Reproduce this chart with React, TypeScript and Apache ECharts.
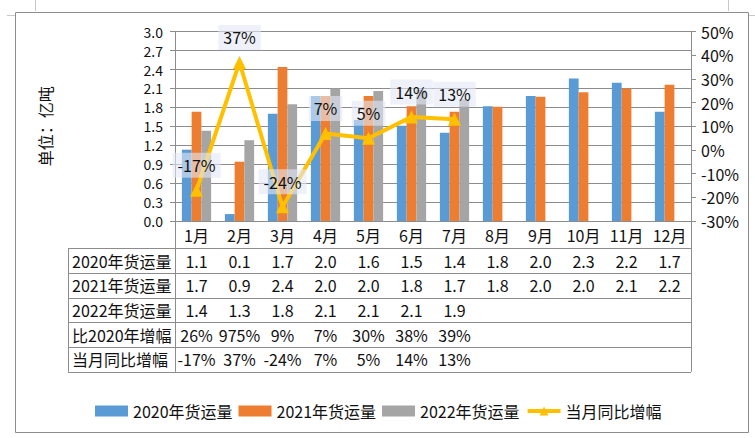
import React, { useEffect, useRef } from "react";
import * as echarts from "echarts";

const months = ["1月", "2月", "3月", "4月", "5月", "6月", "7月", "8月", "9月", "10月", "11月", "12月"];
const freight2020 = [1.13, 0.11, 1.7, 1.98, 1.6, 1.51, 1.4, 1.82, 1.98, 2.26, 2.19, 1.73];
const freight2021 = [1.73, 0.94, 2.44, 1.98, 1.98, 1.82, 1.73, 1.81, 1.97, 2.04, 2.1, 2.16];
const freight2022 = [1.43, 1.28, 1.85, 2.1, 2.06, 2.08, 1.93, null, null, null, null, null];
const yoyGrowth = [-17, 37, -24, 7, 5, 14, 13, null, null, null, null, null];

const seriesNames = ["2020年货运量", "2021年货运量", "2022年货运量", "当月同比增幅"];
const rowNames = ["2020年货运量", "2021年货运量", "2022年货运量", "比2020年增幅", "当月同比增幅"];
const row2020 = ["1.1", "0.1", "1.7", "2.0", "1.6", "1.5", "1.4", "1.8", "2.0", "2.3", "2.2", "1.7"];
const row2021 = ["1.7", "0.9", "2.4", "2.0", "2.0", "1.8", "1.7", "1.8", "2.0", "2.0", "2.1", "2.2"];
const row2022 = ["1.4", "1.3", "1.8", "2.1", "2.1", "2.1", "1.9"];
const rowVs2020 = ["26%", "975%", "9%", "7%", "30%", "38%", "39%"];
const rowYoy = ["-17%", "37%", "-24%", "7%", "5%", "14%", "13%"];
const tableRows = [row2020, row2021, row2022, rowVs2020, rowYoy];

const yAxisName = "单位：亿吨";

const FONT = '"Noto Sans CJK SC", "Noto Sans", sans-serif';
const TXT = "#111";
const GRID_LINE = "#8c8c8c";
const COLORS = ["#5B9BD5", "#ED7D31", "#A5A5A5", "#FFC000"];

export default function App() {
  const ref = useRef<HTMLDivElement>(null);
  useEffect(() => {
    if (!ref.current) return;
    const chart = echarts.init(ref.current, null, { renderer: "svg" });
    const gridLeft = 175;
    const gridRight = 691;
    const gridTop = 31.7;
    const gridBottom = 221;
    chart.setOption({
      animation: false,
      color: COLORS,
      textStyle: { fontFamily: FONT },
      grid: { left: gridLeft, right: 755 - gridRight, top: gridTop, bottom: 438 - gridBottom },
      legend: {
        left: 90,
        top: 398,
        itemWidth: 33,
        itemHeight: 11,
        itemGap: 6,
        textStyle: { fontFamily: FONT, fontSize: 16, color: TXT },
        data: [
          { name: seriesNames[0], icon: "rect" },
          { name: seriesNames[1], icon: "rect" },
          { name: seriesNames[2], icon: "rect" },
          { name: seriesNames[3], lineStyle: { width: 4, color: COLORS[3] } },
        ],
      },
      xAxis: {
        type: "category",
        data: months,
        axisLine: { show: true, lineStyle: { color: GRID_LINE, width: 1 } },
        axisTick: { show: false },
        axisLabel: { interval: 0, margin: 6, fontSize: 16, color: TXT, fontFamily: FONT },
      },
      yAxis: [
        {
          type: "value",
          min: 0,
          max: 3,
          interval: 0.3,
          axisLine: { show: true, lineStyle: { color: GRID_LINE } },
          axisTick: { show: true, length: 5, lineStyle: { color: GRID_LINE } },
          splitLine: { show: true, lineStyle: { color: GRID_LINE, width: 1 } },
          axisLabel: {
            margin: 12,
            fontSize: 14,
            lineHeight: 14,
            color: TXT,
            fontFamily: FONT,
            formatter: (v: number) => v.toFixed(1),
          },
        },
        {
          type: "value",
          min: -30,
          max: 50,
          interval: 10,
          position: "right",
          axisLine: { show: true, lineStyle: { color: GRID_LINE } },
          axisTick: { show: true, length: 5, lineStyle: { color: GRID_LINE } },
          splitLine: { show: false },
          axisLabel: { margin: 10, fontSize: 16, lineHeight: 16, color: TXT, fontFamily: FONT, formatter: "{value}%" },
        },
      ],
      series: [
        { name: seriesNames[0], type: "bar", data: freight2020, barGap: "0%", barCategoryGap: "32%" },
        { name: seriesNames[1], type: "bar", data: freight2021, barGap: "0%", barCategoryGap: "32%" },
        { name: seriesNames[2], type: "bar", data: freight2022, barGap: "0%", barCategoryGap: "32%" },
        {
          name: seriesNames[3],
          type: "line",
          yAxisIndex: 1,
          data: yoyGrowth,
          z: 5,
          symbol: "triangle",
          symbolSize: 13,
          lineStyle: { color: COLORS[3], width: 4 },
          itemStyle: { color: COLORS[3] },
          label: {
            show: true,
            position: "top",
            distance: 6,
            formatter: (p: any) => `${p.value}%`,
            fontSize: 16,
            fontFamily: FONT,
            color: TXT,
            backgroundColor: "rgba(226,231,245,0.6)",
            padding: [4, 5],
            lineHeight: 17,
          },
        },
      ],
    });

    const xs = months.map((_, i) => chart.convertToPixel({ xAxisIndex: 0 }, i) as number);
    const tableLeft = 68;
    const headerBottom = 248.3;
    const rowH = 24.7;
    const tableBottom = headerBottom + rowH * rowNames.length;
    const lineStyle = { stroke: GRID_LINE, lineWidth: 1 };
    const graphics: any[] = [];
    graphics.push({
      type: "rect",
      shape: { x: 15.5, y: 12.5, width: 733, height: 420 },
      style: { fill: "none", stroke: GRID_LINE, lineWidth: 1 },
      z: 0,
    });
    // page corner marks
    graphics.push({ type: "line", shape: { x1: 35.5, y1: 0, x2: 35.5, y2: 11 }, style: { stroke: "#c8c8c8", lineWidth: 1 } });
    graphics.push({ type: "line", shape: { x1: 7, y1: 15.5, x2: 15, y2: 15.5 }, style: { stroke: "#c8c8c8", lineWidth: 1 } });
    graphics.push({ type: "line", shape: { x1: 728.5, y1: 0, x2: 728.5, y2: 11 }, style: { stroke: "#c8c8c8", lineWidth: 1 } });
    graphics.push({ type: "line", shape: { x1: 749, y1: 15.5, x2: 755, y2: 15.5 }, style: { stroke: "#c8c8c8", lineWidth: 1 } });
    // table horizontal lines
    for (let r = 0; r <= rowNames.length; r++) {
      const y = Math.round(headerBottom + rowH * r) + 0.5;
      graphics.push({ type: "line", shape: { x1: tableLeft, y1: y, x2: gridRight, y2: y }, style: lineStyle });
    }
    // verticals
    graphics.push({ type: "line", shape: { x1: tableLeft + 0.5, y1: headerBottom, x2: tableLeft + 0.5, y2: tableBottom }, style: lineStyle });
    graphics.push({ type: "line", shape: { x1: gridLeft + 0.5, y1: gridBottom, x2: gridLeft + 0.5, y2: tableBottom }, style: lineStyle });
    graphics.push({ type: "line", shape: { x1: gridRight + 0.5, y1: gridBottom, x2: gridRight + 0.5, y2: tableBottom }, style: lineStyle });
    // row headers and values
    rowNames.forEach((name, r) => {
      const cy = headerBottom + rowH * (r + 0.5);
      graphics.push({
        type: "text",
        x: tableLeft + 4,
        y: cy,
        style: { text: name, font: `16px ${FONT}`, fill: TXT, textAlign: "left", textVerticalAlign: "middle" },
      });
      tableRows[r].forEach((v, i) => {
        graphics.push({
          type: "text",
          x: xs[i],
          y: cy,
          style: { text: v, font: `16px ${FONT}`, fill: TXT, textAlign: "center", textVerticalAlign: "middle" },
        });
      });
    });
    // y axis name
    graphics.push({
      type: "text",
      x: 45,
      y: (gridTop + gridBottom) / 2,
      rotation: Math.PI / 2,
      style: { text: yAxisName, font: `16px ${FONT}`, fill: TXT, textAlign: "center", textVerticalAlign: "middle" },
    });
    chart.setOption({ graphic: graphics });
    return () => chart.dispose();
  }, []);
  return <div ref={ref} style={{ position: "absolute", left: 0, top: 0, width: 755, height: 438 }} />;
}
